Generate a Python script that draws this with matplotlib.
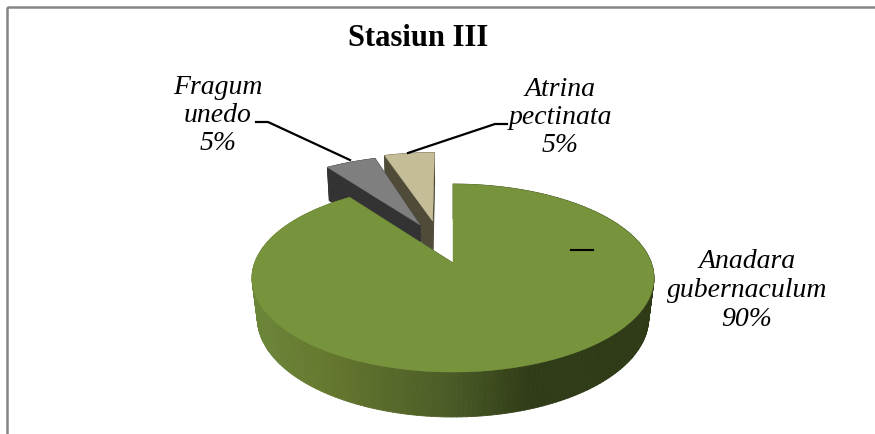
import numpy as np
import matplotlib
matplotlib.use("Agg")
import matplotlib.pyplot as plt
from matplotlib.collections import PolyCollection
from matplotlib.colors import to_rgb
from matplotlib.patches import Rectangle
from matplotlib.transforms import Affine2D

species = ["Anadara\ngubernaculum", "Fragum\nunedo", "Atrina\npectinata"]
values = [90, 5, 5]
percent_labels = ["90%", "5%", "5%"]
explode = [0, 0.5, 0.5]
nudge_x = [0, 9, -6]

top_colors = ["#77933C", "#7F7F7F", "#C4BD97"]
side_colors = [None, "#333333", "#4F4B38"]

# gradient du flanc de la grande part (x pixel -> couleur)
grad_x = [258, 320, 450, 530, 650]
grad_col = ["#6B8538", "#66792F", "#4A5B26", "#303B17", "#2F3A16"]

label_pos = [(747, 262), (218, 87), (560, 89)]
title_txt = "Stasiun III"

# projection perspective du disque (pixels de l'image)
CX = 453
TOP_Y, TOP_R, TOP_K, TOP_B = 263, 198.4, 91.6, 0.16
BOT_Y, BOT_R, BOT_K, BOT_B = 303, 193.5, 96.9, 0.15


def project(pts, y0, r, k, b, dx):
    u, v = pts[:, 0], pts[:, 1]
    d = 1 + b * v
    return np.column_stack([CX + dx + r * u / d, y0 - k * v / d])


def side_color(x):
    rgb = np.array([to_rgb(c) for c in grad_col])
    return [np.interp(x, grad_x, rgb[:, i]) for i in range(3)]


fig = plt.figure(figsize=(8.75, 4.34), dpi=100)
ax = fig.add_axes([0, 0, 1, 1])
wedges, _ = ax.pie(values, explode=explode, startangle=90, counterclock=False)
ax.set_aspect("auto")
ax.set_xlim(0, 875)
ax.set_ylim(434, 0)
ax.axis("off")

# on dessine de l'arriere vers l'avant
for i in [2, 1, 0]:
    flat = wedges[i].get_path().to_polygons(Affine2D().scale(1000))[0] / 1000
    wedges[i].set_visible(False)
    top = project(flat, TOP_Y, TOP_R, TOP_K, TOP_B, nudge_x[i])
    bot = project(flat, BOT_Y, BOT_R, BOT_K, BOT_B, nudge_x[i])
    quads = [[top[j], top[j + 1], bot[j + 1], bot[j]] for j in range(len(top) - 1)]
    if side_colors[i] is None:
        cols = [side_color(q[0][0]) for q in quads]
    else:
        cols = [side_colors[i]] * len(quads)
    ax.add_collection(PolyCollection(quads, facecolors=cols, edgecolors=cols, linewidths=0.6, zorder=2 + 3 - i))
    ax.fill(top[:, 0], top[:, 1], color=top_colors[i], lw=0.3, zorder=2.5 + 3 - i)

# cadre
ax.add_patch(Rectangle((7, 7), 1000, 1000, fill=False, ec="#868686", lw=1.8, clip_on=True, zorder=1))

# traits de rappel
ax.plot([256, 268, 350], [122, 122, 160], color="black", lw=1.6, zorder=8)
ax.plot([408, 495, 507], [153, 124, 124], color="black", lw=1.6, zorder=8)
ax.plot([571, 593], [250, 250], color="black", lw=1.5, zorder=8)

for i in range(3):
    x, y = label_pos[i]
    lines = species[i].split("\n") + [percent_labels[i]]
    for n, line in enumerate(lines):
        ax.text(x, y + n * 28.5, line, family="Liberation Serif", style="italic",
                fontsize=20, ha="center", va="center", color="black", zorder=9)

ax.text(418, 38, title_txt, family="Liberation Serif", weight="bold", fontsize=22,
        ha="center", va="center", color="black", zorder=9)

fig.savefig("out.png", dpi=100)
